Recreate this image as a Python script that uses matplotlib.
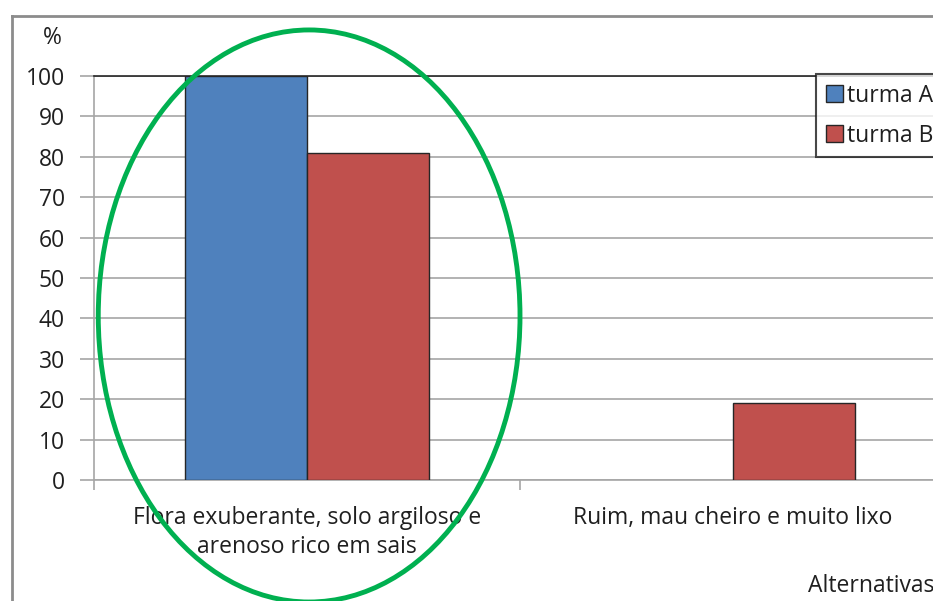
import numpy as np
import matplotlib.pyplot as plt
from matplotlib.patches import Ellipse
from matplotlib.lines import Line2D

plt.rcParams['font.family'] = ['Open Sans', 'DejaVu Sans']

# answers per alternative, in percent of each class
categorias = ['Flora exuberante, solo argiloso e\narenoso rico em sais',
              'Ruim, mau cheiro e muito lixo']
turma_a = [100, 0]
turma_b = [81, 19]
yticks = list(range(0, 101, 10))

azul = '#4F81BD'
vermelho = '#C0504D'
verde = '#00B050'
cinza = '#A6A6A6'
texto = '#1F1F1F'
fs = 16.5

fig = plt.figure(figsize=(9.33, 6.01), dpi=100)
ax = fig.add_axes([94 / 933, 121 / 601, 852 / 933, 404 / 601])

x = np.arange(len(categorias))
w = 0.286
ax.bar(x - w / 2, turma_a, w, color=azul, edgecolor='#262626',
       linewidth=[1 if v else 0 for v in turma_a], label='turma A', zorder=3)
ax.bar(x + w / 2, turma_b, w, color=vermelho, edgecolor='#262626',
       linewidth=[1 if v else 0 for v in turma_b], label='turma B', zorder=3)

ax.set_xlim(-0.5, 1.5)
ax.set_ylim(0, 100)
ax.set_yticks(yticks)
ax.set_yticklabels([str(v) for v in yticks])
ax.yaxis.grid(True, color=cinza, linewidth=1.2, zorder=0)
ax.set_axisbelow(True)

ax.set_xticks(x)
ax.set_xticklabels(categorias, fontsize=fs, color=texto, linespacing=1.25)
ax.set_xticks([-0.5, 0.5, 1.5], minor=True)
ax.tick_params(axis='x', which='major', length=0, pad=19)
ax.tick_params(axis='x', which='minor', length=7, width=1.2, color=cinza)
ax.tick_params(axis='y', length=10, width=1.2, color=cinza, pad=11,
               labelsize=fs, labelcolor=texto)

ax.spines['right'].set_visible(False)
for lado in ['left', 'bottom']:
    ax.spines[lado].set_color(cinza)
    ax.spines[lado].set_linewidth(1.2)
ax.spines['top'].set_color('#262626')
ax.spines['top'].set_linewidth(1.2)

# highlight around the first alternative
ax.add_patch(Ellipse((0.005, 40.6), 0.99, 141.6, fill=False, edgecolor=verde,
                     linewidth=3.5, clip_on=False, zorder=5))

leg = fig.legend(loc='upper left', bbox_to_anchor=(816 / 933, 1 - 74 / 601),
                 fontsize=fs, frameon=True, fancybox=False, borderpad=0.42,
                 labelspacing=0.7, handlelength=0.75, handleheight=0.75,
                 handletextpad=0.2, borderaxespad=0)
leg.get_frame().set_edgecolor('#1a1a1a')
leg.get_frame().set_linewidth(1.5)
for t in leg.get_texts():
    t.set_color(texto)

fig.text(52 / 933, 1 - 38 / 601, '%', fontsize=fs, color=texto,
         ha='center', va='center')
fig.text(808 / 933, 1 - 586 / 601, 'Alternativas', fontsize=fs,
         color=texto, ha='left', va='center')

# chart area border
fig.add_artist(Line2D([12 / 933, 12 / 933], [0, 1 - 16 / 601],
                      transform=fig.transFigure, color='#8C8C8C', linewidth=2))
fig.add_artist(Line2D([12 / 933, 1.05], [1 - 16 / 601, 1 - 16 / 601],
                      transform=fig.transFigure, color='#8C8C8C', linewidth=2))

fig.savefig('out.png', dpi=100)
